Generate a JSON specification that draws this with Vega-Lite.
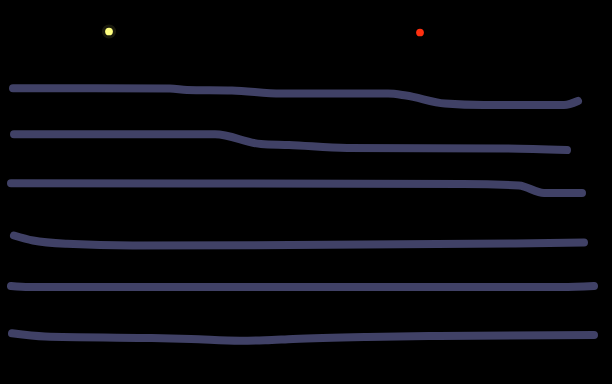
{
  "$schema": "https://vega.github.io/schema/vega-lite/v6.json",
  "width": 612,
  "height": 384,
  "autosize": {"type": "fit", "contains": "padding"},
  "padding": 0,
  "background": "#000000",
  "config": {"view": {"stroke": null}},
  "datasets": {
    "lines": [
      {"s": "1", "x": 13, "y": 88.3}, {"s": "1", "x": 170, "y": 88.5}, {"s": "1", "x": 187, "y": 90}, {"s": "1", "x": 232, "y": 90.5}, {"s": "1", "x": 281, "y": 93.5}, {"s": "1", "x": 388, "y": 93.5}, {"s": "1", "x": 406, "y": 95.5}, {"s": "1", "x": 445, "y": 103.5}, {"s": "1", "x": 484, "y": 105}, {"s": "1", "x": 564, "y": 105}, {"s": "1", "x": 578, "y": 101},
      {"s": "2", "x": 14, "y": 134.3}, {"s": "2", "x": 215, "y": 134.3}, {"s": "2", "x": 261, "y": 144}, {"s": "2", "x": 289, "y": 145}, {"s": "2", "x": 347, "y": 148}, {"s": "2", "x": 505, "y": 148.5}, {"s": "2", "x": 567, "y": 150},
      {"s": "3", "x": 11, "y": 183.3}, {"s": "3", "x": 463, "y": 184}, {"s": "3", "x": 519, "y": 185.5}, {"s": "3", "x": 544, "y": 193}, {"s": "3", "x": 582, "y": 193},
      {"s": "4", "x": 14, "y": 235.5}, {"s": "4", "x": 33, "y": 240.5}, {"s": "4", "x": 67, "y": 243.8}, {"s": "4", "x": 133, "y": 245.5}, {"s": "4", "x": 250, "y": 245.3}, {"s": "4", "x": 515, "y": 243.5}, {"s": "4", "x": 584, "y": 242.5},
      {"s": "5", "x": 11, "y": 286}, {"s": "5", "x": 29, "y": 287}, {"s": "5", "x": 562, "y": 287}, {"s": "5", "x": 594, "y": 286},
      {"s": "6", "x": 12, "y": 333.3}, {"s": "6", "x": 45, "y": 336.5}, {"s": "6", "x": 146, "y": 338}, {"s": "6", "x": 191, "y": 339}, {"s": "6", "x": 240, "y": 340.7}, {"s": "6", "x": 265, "y": 340.3}, {"s": "6", "x": 293, "y": 339}, {"s": "6", "x": 367, "y": 337}, {"s": "6", "x": 439, "y": 336}, {"s": "6", "x": 594, "y": 335}
    ],
    "stars": [
      {"name": "a", "x": 109, "y": 31.5},
      {"name": "b", "x": 420, "y": 32.5}
    ]
  },
  "layer": [
    {
      "data": {"name": "lines"},
      "mark": {"type": "line", "strokeWidth": 8, "strokeCap": "round", "strokeJoin": "round", "color": "#404166", "interpolate": "monotone"},
      "encoding": {
        "x": {"field": "x", "type": "quantitative", "scale": {"domain": [0, 612], "nice": false, "zero": false}, "axis": null},
        "y": {"field": "y", "type": "quantitative", "scale": {"domain": [0, 384], "reverse": true, "nice": false, "zero": false}, "axis": null},
        "detail": {"field": "s"}
      }
    },
    {
      "data": {"name": "stars"},
      "transform": [{"filter": "datum.name == 'a'"}],
      "mark": {"type": "circle", "size": 200, "opacity": 0.1, "color": "#ffff80"},
      "encoding": {
        "x": {"field": "x", "type": "quantitative"},
        "y": {"field": "y", "type": "quantitative"}
      }
    },
    {
      "data": {"name": "stars"},
      "mark": {"type": "circle", "size": 60, "opacity": 1},
      "encoding": {
        "x": {"field": "x", "type": "quantitative"},
        "y": {"field": "y", "type": "quantitative"},
        "color": {"field": "name", "type": "nominal", "scale": {"domain": ["a", "b"], "range": ["#ffff80", "#ff3010"]}, "legend": null}
      }
    }
  ]
}
